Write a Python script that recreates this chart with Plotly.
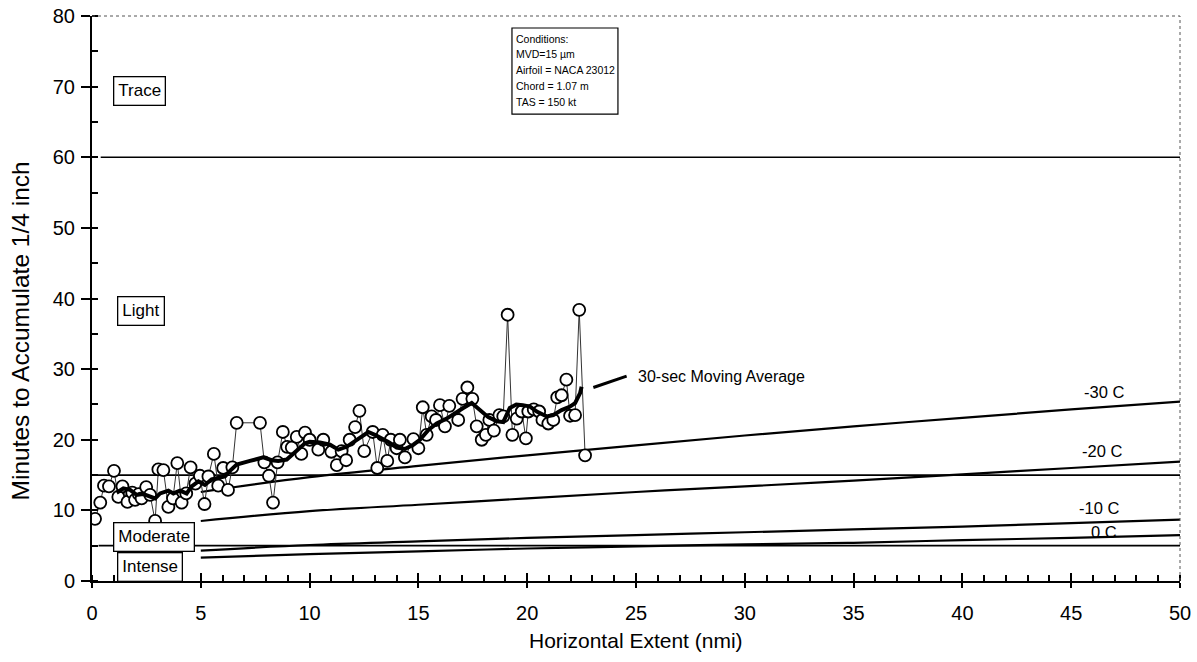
import plotly.graph_objects as go

FONT = "Liberation Sans, Arial, sans-serif"

# Observed accumulation times (minutes) vs horizontal extent (nmi)
x_obs = [0.14, 0.38, 0.55, 0.78, 1.01, 1.21, 1.40, 1.63, 1.85, 1.98, 2.15, 2.28, 2.49, 2.67,
         2.90, 3.05, 3.28, 3.51, 3.72, 3.92, 4.12, 4.33, 4.53, 4.75, 4.96, 5.17, 5.35, 5.60,
         5.80, 6.03, 6.25, 6.45, 6.65, 7.72, 7.92, 8.13, 8.32, 8.53, 8.77, 8.97, 9.18, 9.41,
         9.62, 9.79, 10.00, 10.40, 10.63, 11.00, 11.25, 11.47, 11.68, 11.84, 12.09, 12.29,
         12.51, 12.90, 13.11, 13.36, 13.57, 13.73, 14.00, 14.15, 14.38, 14.77, 15.00, 15.20,
         15.38, 15.61, 15.81, 15.99, 16.22, 16.42, 16.83, 17.03, 17.25, 17.48, 17.68, 17.91,
         18.10, 18.26, 18.47, 18.72, 18.90, 19.10, 19.32, 19.52, 19.75, 19.94, 20.05, 20.30,
         20.55, 20.70, 20.97, 21.20, 21.38, 21.58, 21.80, 21.97, 22.20, 22.39, 22.66]
y_obs = [8.8, 11.1, 13.5, 13.4, 15.6, 11.9, 13.4, 11.2, 12.5, 11.5, 12.3, 11.7, 13.3, 12.2,
         8.5, 15.8, 15.7, 10.5, 11.7, 16.7, 11.1, 12.4, 16.1, 13.8, 14.9, 10.9, 14.8, 18.0,
         13.5, 16.0, 12.9, 16.1, 22.4, 22.4, 16.8, 14.9, 11.1, 16.8, 21.1, 19.0, 18.9, 20.4,
         18.0, 21.0, 20.0, 18.6, 20.0, 18.3, 16.4, 18.4, 17.1, 20.0, 21.8, 24.1,
         18.4, 21.1, 16.0, 20.7, 17.0, 20.0, 18.8, 20.0, 17.5, 20.1, 18.8, 24.6,
         20.7, 23.3, 22.8, 24.9, 21.9, 24.8, 22.8, 25.8, 27.4, 25.8, 21.9, 20.0,
         20.7, 22.8, 21.3, 23.5, 23.3, 37.7, 20.7, 23.0, 24.0, 20.2, 24.0, 24.3,
         24.0, 22.8, 22.3, 22.8, 26.0, 26.3, 28.5, 23.4, 23.5, 38.4, 17.8]

# 30-second moving average
x_ma = [1.13, 1.44, 1.75, 2.05, 2.36, 2.67, 2.90, 3.13, 3.51, 3.74, 4.04, 4.35, 4.58, 4.89,
        5.19, 5.50, 5.85, 6.11, 6.34, 6.65, 7.26, 7.87, 8.26, 8.56, 8.95, 9.41, 9.79, 10.00,
        10.48, 10.94, 11.32, 11.70, 12.00, 12.39, 12.70, 13.00, 13.31, 13.62, 14.00, 14.38,
        14.77, 15.07, 15.46, 15.84, 16.30, 16.68, 17.06, 17.45, 17.83, 18.21, 18.60, 18.90,
        19.20, 19.50, 19.80, 20.13, 20.44, 20.90, 21.20, 21.58, 21.97, 22.20, 22.43, 22.50]
y_ma = [12.5, 13.1, 12.9, 12.2, 12.3, 12.0, 11.7, 12.4, 12.8, 12.4, 12.8, 12.4, 13.4, 14.1,
        13.6, 14.4, 14.7, 14.8, 15.6, 16.5, 17.0, 17.5, 17.1, 17.0, 17.2, 18.4, 19.5, 19.7,
        19.6, 19.3, 18.6, 19.0, 19.6, 20.4, 21.1, 20.7, 20.2, 19.7, 18.9, 18.7,
        19.3, 20.0, 21.4, 22.3, 23.0, 23.8, 24.5, 25.2, 24.2, 23.2, 22.6, 22.5,
        24.5, 25.0, 24.9, 24.7, 24.0, 23.3, 23.5, 24.2, 24.7, 25.2, 26.6, 27.5]

# Accumulation-time curves by temperature
temp_x = [5, 10, 15, 20, 25, 30, 35, 40, 45, 50]
temp_curves = {
    "-30 C": [12.6, 14.7, 16.3, 17.8, 19.2, 20.6, 21.9, 23.1, 24.3, 25.4],
    "-20 C": [8.5, 9.9, 10.8, 11.7, 12.6, 13.4, 14.2, 15.1, 16.0, 16.9],
    "-10 C": [4.3, 5.1, 5.6, 6.1, 6.5, 6.9, 7.3, 7.7, 8.2, 8.7],
    "0 C": [3.3, 3.8, 4.2, 4.6, 4.9, 5.2, 5.4, 5.8, 6.1, 6.5],
}
temp_label_x = [46.5, 46.4, 46.3, 46.5]
temp_label_y = [26.7, 18.4, 10.4, 7.0]

# Intensity thresholds (minutes) and category labels
threshold_y = [60, 15, 5]
threshold_x0 = [0.4, 0.0, 0.3]
category_names = ["Trace", "Light", "Moderate", "Intense"]
category_x = [2.16, 2.27, 2.85, 2.67]
category_y = [69.4, 38.2, 6.2, 2.0]

conditions = ["Conditions:", "MVD=15 µm", "Airfoil = NACA 23012", "Chord = 1.07 m", "TAS = 150 kt"]

x_ticks = list(range(0, 51, 5))
y_ticks = list(range(0, 81, 10))

fig = go.Figure()

for yv, x0 in zip(threshold_y, threshold_x0):
    fig.add_trace(go.Scatter(x=[x0, 50], y=[yv, yv], mode="lines",
                             line=dict(color="black", width=1.7), hoverinfo="skip"))

for name, vals in temp_curves.items():
    fig.add_trace(go.Scatter(x=temp_x, y=vals, mode="lines", name=name,
                             line=dict(color="black", width=2.2, shape="spline"),
                             hoverinfo="skip"))

fig.add_trace(go.Scatter(x=x_obs, y=y_obs, mode="lines+markers",
                         line=dict(color="#333333", width=1),
                         marker=dict(symbol="circle", size=12, color="white",
                                     line=dict(color="black", width=1.8))))

fig.add_trace(go.Scatter(x=x_ma, y=y_ma, mode="lines",
                         line=dict(color="black", width=4)))

# helper trace for the overlay axes carrying inward major ticks
fig.add_trace(go.Scatter(x=[0], y=[0], xaxis="x2", yaxis="y2", mode="markers",
                         marker=dict(opacity=0), hoverinfo="skip"))

annotations = []
for name, lx, ly in zip(temp_curves.keys(), temp_label_x, temp_label_y):
    annotations.append(dict(x=lx, y=ly, text=name, showarrow=False,
                            font=dict(family=FONT, size=16.5, color="black")))

for name, cx, cy in zip(category_names, category_x, category_y):
    annotations.append(dict(x=cx, y=cy, text=name, showarrow=False,
                            font=dict(family=FONT, size=17, color="black"),
                            bgcolor="white", bordercolor="black", borderwidth=1.3,
                            borderpad=4))

for i, line in enumerate(conditions):
    annotations.append(dict(x=19.4, y=76.8 - i * 2.25, text=line, showarrow=False,
                            xanchor="left", yanchor="middle",
                            font=dict(family=FONT, size=10.5, color="black")))

annotations.append(dict(x=25.0, y=29.0, text="30-sec Moving Average", showarrow=False,
                        xanchor="left", yanchor="middle",
                        font=dict(family=FONT, size=16, color="black")))

annotations.append(dict(xref="paper", yref="paper", x=-0.0655, y=0.443,
                        xanchor="center", yanchor="middle",
                        text="Minutes to Accumulate 1/4 inch", textangle=-90,
                        showarrow=False, font=dict(family=FONT, size=24.5, color="black")))
annotations.append(dict(xref="paper", yref="paper", x=0.5, y=-0.106,
                        xanchor="center", yanchor="middle",
                        text="Horizontal Extent (nmi)", showarrow=False,
                        font=dict(family=FONT, size=21, color="black")))

shapes = [
    dict(type="rect", x0=19.3, x1=24.17, y0=66.1, y1=78.3,
         line=dict(color="black", width=1.2), fillcolor="rgba(0,0,0,0)"),
    dict(type="line", x0=23.04, y0=27.4, x1=24.57, y1=29.0,
         line=dict(color="black", width=3)),
    dict(type="path", xref="paper", yref="paper", path="M 0,1 L 1,1 L 1,0",
         line=dict(color="#555555", width=1, dash="dot")),
]

axis_font = dict(family=FONT, size=20, color="black")

fig.update_layout(
    width=1197, height=662,
    margin=dict(l=92, r=17, t=16, b=81, autoexpand=False),
    paper_bgcolor="white", plot_bgcolor="white",
    showlegend=False,
    annotations=annotations,
    shapes=shapes,
    xaxis=dict(range=[0, 50], tickvals=x_ticks, ticks="outside", ticklen=5, tickwidth=2,
               tickcolor="black", showline=True, linecolor="black", linewidth=2,
               showgrid=False, zeroline=False, tickfont=axis_font, ticklabelstandoff=8,
               automargin=False,
               minor=dict(dtick=1, ticks="inside", ticklen=6, tickwidth=1.5,
                          tickcolor="black", showgrid=False)),
    yaxis=dict(range=[0, 80], tickvals=y_ticks, ticks="outside", ticklen=9, tickwidth=2,
               tickcolor="black", showline=True, linecolor="black", linewidth=2,
               showgrid=False, zeroline=False, tickfont=axis_font, automargin=False,
               ticklabelstandoff=2,
               minor=dict(dtick=5, ticks="inside", ticklen=6, tickwidth=1.5,
                          tickcolor="black", showgrid=False)),
    xaxis2=dict(range=[0, 50], overlaying="x", anchor="y2", side="bottom",
                tickvals=x_ticks, ticks="inside", ticklen=8, tickwidth=2, tickcolor="black",
                showticklabels=False, showline=False, showgrid=False, zeroline=False,
                automargin=False),
    yaxis2=dict(range=[0, 80], overlaying="y", anchor="x2", side="left",
                tickvals=y_ticks, ticks="inside", ticklen=6, tickwidth=2, tickcolor="black",
                showticklabels=False, showline=False, showgrid=False, zeroline=False,
                automargin=False),
)

fig.write_html("out.html")
